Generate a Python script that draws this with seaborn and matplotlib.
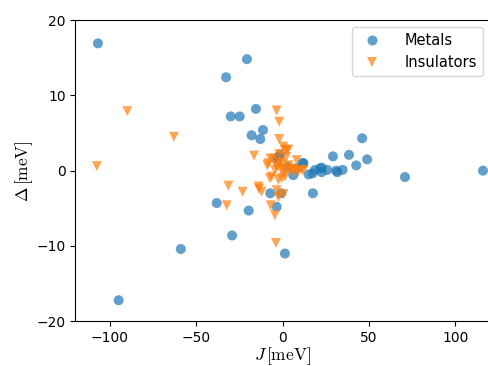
import pandas as pd
import matplotlib
matplotlib.use("Agg")
import matplotlib.pyplot as plt
import seaborn as sns

# Values (J, Delta in meV)
metal_J = [-107, -20.7, -32.8, -30.1, -24.9, -15.5, -18, -13, -11.4, -38.2,
           -19.7, -29.3, -59, 1.3, -95, 46, 38.4, 29.1, 42.6, 48.9,
           70.8, 116, 17.5, 17.4, 22.6, 22.6, 25.8, 31.6, 34.7, 18.7,
           11.6, -2.5, -3.5, 6.1, -7.2, -0.8, -3.5, 15, 8, 3, 31.0,
           21.6, 12.0, -1.6]
metal_D = [16.9, 14.8, 12.4, 7.2, 7.2, 8.2, 4.7, 4.2, 5.4, -4.3,
           -5.3, -8.6, -10.4, -11.0, -17.2, 4.3, 2.1, 1.9, 0.7, 1.5,
           -0.85, 0.0, -3.0, -0.36, 0.4, -0.2, 0.1, -0.2, 0.1, 0.1,
           1.0, 1.8, 1.6, -0.6, -3.0, -3.0, -4.8, -0.5, 0.3, 0.5, 0.0,
           0.3, 1.0, 2.1]

insul_J = [-107.6, -90, -63, -31.5, -32.4, -23.2, -13.7, -12.2, -16.6, -3.5,
           -2.0, -2.0, 0.4, 3.2, 1.3, -7.0, -5.4, -8.9, -8.3, -1.6,
           8.1, 0.4, 4.2, 6.1, 9.0, 12.0, -4.5, -3.1, 3.3, -7.4,
           -2.5, 1.3, -6.4, -0.6, -3.5, 0.4, -2.5, -7.0, -4.5, -3.9,
           -2.0, 2.0, 1.0, -1.0, 5.2, 7.1, 2.3, -0.6, -3.5, 11.0,
           -14.0]
insul_D = [0.6, 7.9, 4.5, -2.0, -4.6, -2.8, -2.4, -2.8, 2.0, 8.0,
           6.5, 4.2, 3.2, 2.8, 2.7, 1.6, 1.6, 0.7, 1.0, 1.2,
           1.4, 0.3, 0.1, 0.1, -0.1, 0.1, 0.1, 0.5, 0.7, -1.0,
           -1.2, -0.8, -0.8, -1.0, -2.6, -3.1, -3.5, -4.6, -5.9, -9.6,
           2.2, 1.8, -0.2, 0.2, 0.3, -0.1, 2.7, 1.0, 0.7, 0.1,
           -2.1]

df = pd.concat([
    pd.DataFrame({"J": metal_J, "D": metal_D, "kind": "Metals"}),
    pd.DataFrame({"J": insul_J, "D": insul_D, "kind": "Insulators"}),
], ignore_index=True)

plt.rcParams["mathtext.fontset"] = "cm"

fig = plt.figure(figsize=(4.88, 3.66), dpi=100)
ax = fig.add_axes([0.1547, 0.1221, 0.8492, 0.8232])

sns.scatterplot(data=df, x="J", y="D", hue="kind", style="kind",
                palette={"Metals": "#1f77b4", "Insulators": "#ff7f0e"},
                markers={"Metals": "o", "Insulators": "v"},
                s=52, alpha=0.7, linewidth=0, ax=ax)

ax.set_xlim(-120, 120)
ax.set_ylim(-20, 20)
ax.set_xticks([-100, -50, 0, 50, 100])
ax.set_yticks([-20, -10, 0, 10, 20])
ax.tick_params(labelsize=10)
ax.set_xlabel(r"$J\,[\mathrm{meV}]$", fontsize=12.5, labelpad=0)
ax.set_ylabel(r"$\Delta\,[\mathrm{meV}]$", fontsize=12.5, labelpad=1)

handles, labels = ax.get_legend_handles_labels()
ax.legend(handles, labels, loc="upper right", fontsize=10.5,
          handletextpad=1.2)

fig.savefig("out.png", dpi=100)
